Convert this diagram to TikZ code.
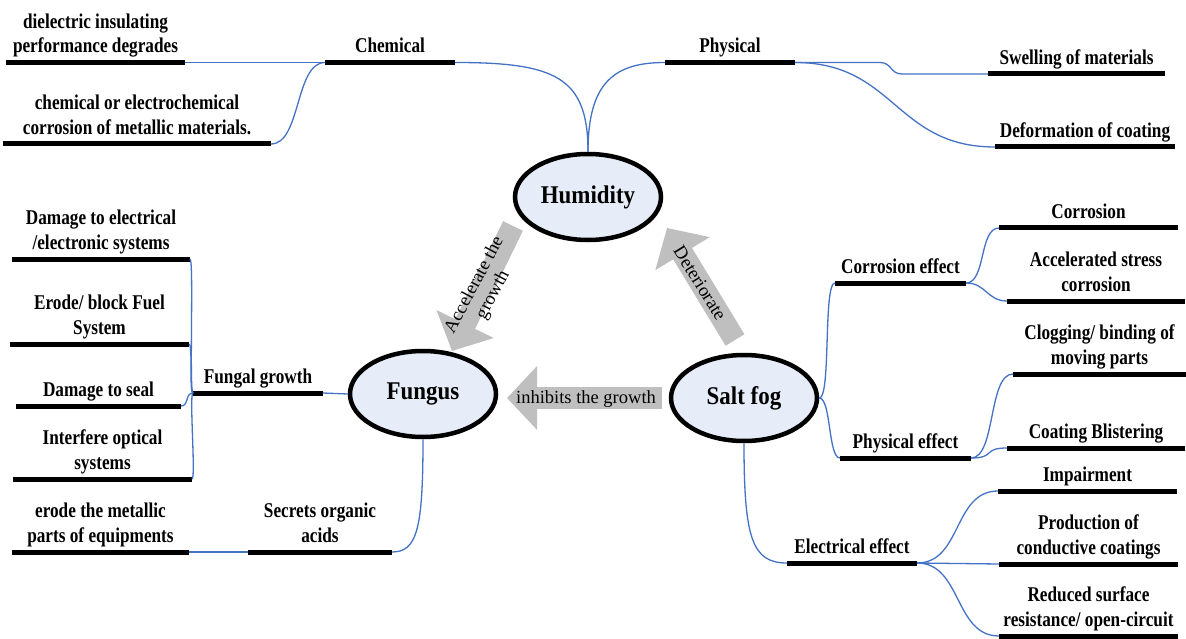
\documentclass[tikz,border=0pt]{standalone}
\usepackage{fontspec}
\setmainfont{Liberation Serif}
\newfontfamily\condf{Liberation Serif}[FakeStretch=0.82]
\newfontfamily\ellf{Liberation Serif}[FakeStretch=0.9]
\usetikzlibrary{arrows.meta,shapes.geometric}
\definecolor{conncol}{RGB}{68,114,196}
\definecolor{ellfill}{RGB}{231,237,248}
\definecolor{arrgray}{RGB}{191,191,191}
\begin{document}
\begin{tikzpicture}[x=1pt,y=-1pt,
  barnode/.style={fill=black,inner sep=0pt,outer sep=0pt,minimum height=5pt,minimum width=#1},
  lab/.style={font=\condf\bfseries\fontsize{21}{24.5}\selectfont,align=center,inner sep=0pt,text depth=0pt,anchor=south},
  ell/.style={ellipse,draw=black,line width=4.5pt,fill=ellfill,minimum width=146pt,minimum height=86pt,inner sep=0pt,font=\ellf\bfseries\fontsize{25.5}{28}\selectfont},
  cline/.style={draw=conncol,line width=1.3pt},
  garrow/.style={draw=arrgray,line width=22pt,-{Triangle[length=30pt,width=62pt]}},
  alab/.style={font=\fontsize{18.5}{21}\selectfont,align=center,inner sep=0pt}]
\useasboundingbox (0,0) rectangle (1186,639);

% gray relation arrows
\coordinate (acc-t) at (513,226);
\coordinate (acc-h) at (452,351);
\coordinate (det-t) at (735,340);
\coordinate (det-h) at (667,228);
\coordinate (inh-t) at (662,398);
\coordinate (inh-h) at (507,398);
\draw[garrow] (acc-t) -- (acc-h);
\draw[garrow] (det-t) -- (det-h);
\draw[garrow] (inh-t) -- (inh-h);
\node[alab,rotate=62] (acc-l) at (484,290) {Accelerate the\\growth};
\node[alab,rotate=-58] (det-l) at (700,283) {Deteriorate};
\node[alab] (inh-l) at (586,399) {inhibits the growth};

% bars
\node[barnode=179pt] (a1) at (95.5,62.5) {};
\node[barnode=268pt] (a2) at (137,144) {};
\node[barnode=130pt] (ch) at (390,62.5) {};
\node[barnode=130pt] (ph) at (730,62.5) {};
\node[barnode=177pt] (sw) at (1076.5,74) {};
\node[barnode=180pt] (df) at (1085,147) {};
\node[barnode=178pt] (e1) at (101,259) {};
\node[barnode=179pt] (e2) at (99.5,344) {};
\node[barnode=165pt] (e3) at (98.5,406) {};
\node[barnode=179pt] (e4) at (102.5,479) {};
\node[barnode=130pt] (fg) at (258,393) {};
\node[barnode=177pt] (m1) at (100.5,552) {};
\node[barnode=144pt] (so) at (320,552) {};
\node[barnode=131pt] (ce) at (900.5,283) {};
\node[barnode=179pt] (c1) at (1088.5,228) {};
\node[barnode=178pt] (c2) at (1096,301) {};
\node[barnode=131pt] (pe) at (905.5,458) {};
\node[barnode=173pt] (p1) at (1099.5,374) {};
\node[barnode=178pt] (p2) at (1096,448) {};
\node[barnode=130pt] (ee) at (852,563) {};
\node[barnode=179pt] (r1) at (1087.5,491) {};
\node[barnode=179pt] (r2) at (1088.5,564) {};
\node[barnode=179pt] (r3) at (1088.5,636) {};

% ellipses
\node[ell] (hum) at (588,197) {Humidity};
\node[ell] (fun) at (423,394) {Fungus};
\node[ell] (salt) at (744,398) {Salt fog};

% connectors
\draw[cline] (a1.east) -- (ch.west);
\draw[cline] (a2.east) .. controls +(30,0) and +(-30,0) .. (ch.west);
\draw[cline] (ch.east) .. controls +(100,0) and +(0,-75) .. (hum.north);
\draw[cline] (hum.north) .. controls +(0,-70) and +(-50,0) .. (ph.west);
\draw[cline] (ph.east) -- ++(85,0) .. controls +(12,0) and +(-12,0) .. ++(22,11.5) -- (sw.west);
\draw[cline] (ph.east) .. controls +(100,0) and +(-100,0) .. (df.west);
\draw[cline] (fg.west) .. controls +(-4,0) and +(4,0) .. (e1.east);
\draw[cline] (fg.west) .. controls +(-4,0) and +(4,0) .. (e2.east);
\draw[cline] (fg.west) .. controls +(-8,0) and +(8,0) .. (e3.east);
\draw[cline] (fg.west) .. controls +(-4,0) and +(4,0) .. (e4.east);
\draw[cline] (fg.east) -- (fun.west);
\draw[cline] (m1.east) -- (so.west);
\draw[cline] (fun.south) .. controls +(0,90) and +(25,0) .. (so.east);
\draw[cline] (salt.east) .. controls +(12,0) and +(-12,0) .. (ce.west);
\draw[cline] (salt.east) .. controls +(12,0) and +(-12,0) .. (pe.west);
\draw[cline] (ce.east) .. controls +(20,0) and +(-20,0) .. (c1.west);
\draw[cline] (ce.east) .. controls +(20,0) and +(-20,0) .. (c2.west);
\draw[cline] (pe.east) .. controls +(25,0) and +(-25,0) .. (p1.west);
\draw[cline] (pe.east) .. controls +(25,0) and +(-25,0) .. (p2.west);
\draw[cline] (salt.south) .. controls +(0,95) and +(-35,0) .. (ee.west);
\draw[cline] (ee.east) .. controls +(45,0) and +(-45,0) .. (r1.west);
\draw[cline] (ee.east) -- (r2.west);
\draw[cline] (ee.east) .. controls +(45,0) and +(-45,0) .. (r3.west);

% labels
\node[lab] (a1t) at ([yshift=7pt]a1.north) {dielectric insulating\\performance degrades};
\node[lab] (a2t) at ([yshift=7pt]a2.north) {chemical or electrochemical\\corrosion of metallic materials.};
\node[lab] (cht) at ([yshift=7pt]ch.north) {Chemical};
\node[lab] (pht) at ([yshift=7pt]ph.north) {Physical};
\node[lab] (swt) at ([yshift=7pt]sw.north) {Swelling of materials};
\node[lab] (dft) at ([yshift=7pt]df.north) {Deformation of coating};
\node[lab] (e1t) at ([yshift=7pt]e1.north) {Damage to electrical\\/electronic systems};
\node[lab] (e2t) at ([yshift=7pt]e2.north) {Erode/ block Fuel\\System};
\node[lab] (e3t) at ([yshift=7pt]e3.north) {Damage to seal};
\node[lab] (e4t) at ([yshift=7pt]e4.north) {Interfere optical\\systems};
\node[lab] (fgt) at ([yshift=7pt]fg.north) {Fungal growth};
\node[lab] (m1t) at ([yshift=7pt]m1.north) {erode the metallic\\parts of equipments};
\node[lab] (sot) at ([yshift=7pt]so.north) {Secrets organic\\acids};
\node[lab] (cet) at ([yshift=7pt]ce.north) {Corrosion effect};
\node[lab] (c1t) at ([yshift=7pt]c1.north) {Corrosion};
\node[lab] (c2t) at ([yshift=7pt]c2.north) {Accelerated stress\\corrosion};
\node[lab] (pet) at ([yshift=7pt]pe.north) {Physical effect};
\node[lab] (p1t) at ([yshift=7pt]p1.north) {Clogging/ binding of\\moving parts};
\node[lab] (p2t) at ([yshift=7pt]p2.north) {Coating Blistering};
\node[lab] (eet) at ([yshift=7pt]ee.north) {Electrical effect};
\node[lab] (r1t) at ([yshift=7pt]r1.north) {Impairment};
\node[lab] (r2t) at ([yshift=7pt]r2.north) {Production of\\conductive coatings};
\node[lab] (r3t) at ([yshift=7pt]r3.north) {Reduced surface\\resistance/ open-circuit};
\end{tikzpicture}
\end{document}
